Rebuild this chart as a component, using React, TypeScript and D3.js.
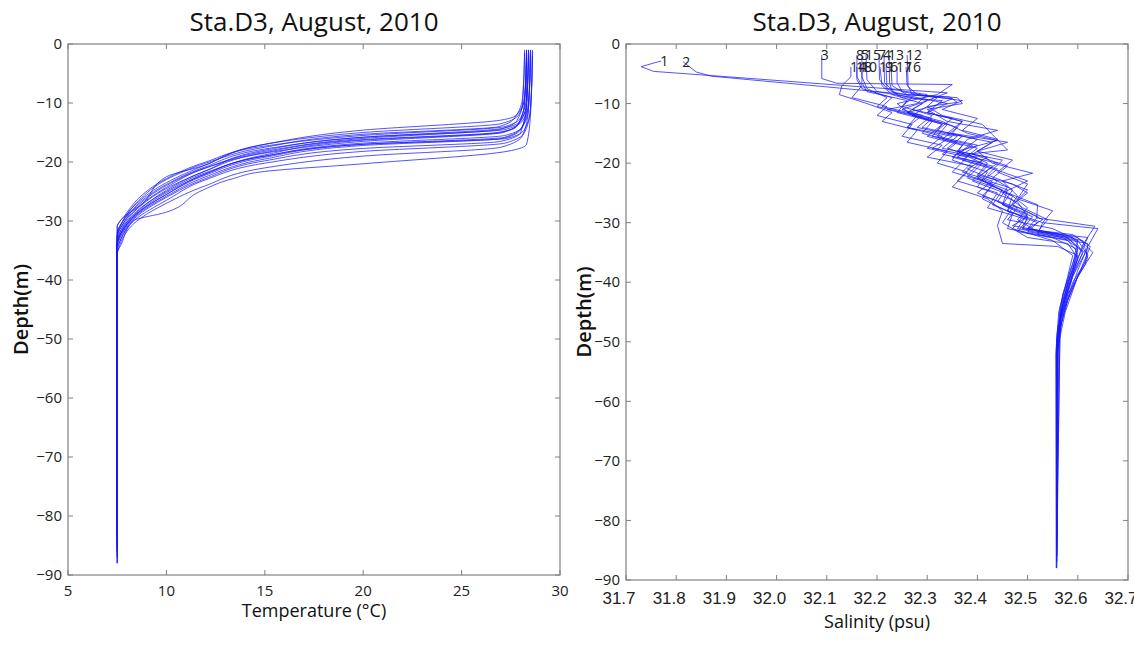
import React from "react";
import * as d3 from "d3";

// temperature profiles, [temp (°C), depth (m)], one per station
const tempProfiles: number[][][] = [
  [[28.3,1],[28.2,9],[27.9,12],[27.0,13.5],[20,15],[15,17],[12,20.5],[10,23.5],[8.5,27],[7.7,30.5],[7.5,33],[7.5,84]],
  [[28.5,1.5],[28.4,10],[28.1,13],[27.2,14.5],[20,15.8],[15,18],[12,21.5],[10,24.5],[8.5,28],[7.7,31.5],[7.5,34],[7.5,86]],
  [[28.6,2],[28.5,11],[28.2,14.5],[27.3,16],[20,17],[15,19],[12,22],[10,25.5],[8.6,28.5],[7.7,32],[7.5,34],[7.5,82]],
  [[28.3,1],[28.2,10],[27.8,14],[26.8,15],[20,16.2],[15,18.4],[12,21],[10,24],[8.5,27.5],[7.8,30],[7.5,32],[7.5,88]],
  [[28.4,1.2],[28.3,10],[28.0,15],[27.0,16.5],[20,17.7],[15,19.8],[12,22.8],[10,26],[8.4,29.5],[7.7,33],[7.5,35],[7.5,85]],
  [[28.2,1],[28.1,9],[27.7,12.5],[26.9,14],[20,15.3],[15,17.5],[12,20.2],[10,23],[8.6,26.5],[7.8,30],[7.5,32.5],[7.5,80]],
  [[28.5,1],[28.4,11],[28.1,15.5],[27.0,17.5],[20,19],[15,21],[12,24],[10,27],[8.5,30],[7.7,33.5],[7.5,36],[7.5,87]],
  [[28.3,1.5],[28.3,10],[27.9,13.5],[27.1,15],[20,16.5],[15,18.5],[12,21.5],[10,24.8],[8.5,28.5],[7.7,31.5],[7.5,33.5],[7.5,83]],
  [[28.4,1],[28.3,9],[28.0,12.5],[27.2,14],[20,15.5],[15,17.3],[12,20],[10,22.8],[8.8,25.5],[7.9,29],[7.5,31],[7.5,86]],
  [[28.6,1],[28.5,12],[28.3,17],[27.3,18.2],[20,20.3],[15,21.6],[13.4,22.8],[11.7,25],[10,28.5],[8.3,30],[7.7,34],[7.5,35.5],[7.5,88]],
  [[28.2,1.5],[28.1,10],[27.8,13],[26.9,14.5],[20,16],[15,18.2],[12,21],[10,24.3],[8.5,27.8],[7.7,31],[7.5,33],[7.5,81]],
  [[28.4,2],[28.3,11],[28.0,14.5],[27.1,16],[20,17.2],[15,19.5],[12,22.5],[10,25.8],[8.5,29],[7.7,32.5],[7.5,34.5],[7.5,84]],
  [[28.3,1],[28.2,9],[27.8,12],[27.0,12.9],[20,14.6],[15,17],[11.7,20.8],[10,22.5],[8.8,27],[7.7,29.8],[7.5,31],[7.5,87]],
  [[28.5,1],[28.4,10],[28.1,14],[27.2,15.5],[20,16.8],[15,19],[12,21.8],[10,25],[8.5,28.3],[7.7,32],[7.5,34],[7.5,85]],
  [[28.3,1.3],[28.2,10],[27.9,13.5],[27.0,15],[20,16.3],[15,18.8],[12,22],[10,25.2],[8.5,28.7],[7.7,32],[7.5,33.5],[7.5,82]],
  [[28.6,1.2],[28.5,11],[28.2,15],[27.2,16.8],[20,18.2],[15,20.2],[12,23],[10,26.5],[8.4,29.8],[7.7,33],[7.5,35],[7.5,86]],
  [[28.4,1],[28.3,10],[28.0,13],[27.1,14.3],[20,15.8],[15,17.8],[12,20.8],[10,23.8],[8.6,27],[7.8,30.5],[7.5,32.5],[7.5,83]],
  [[28.5,1.5],[28.4,11],[28.1,14],[27.2,15.8],[20,17],[15,19.2],[12,22.2],[10,25.5],[8.5,28.8],[7.7,32.3],[7.5,34.2],[7.5,88]],
];

// salinity profiles, [salinity (psu), depth (m)], station i+1
const salProfiles: number[][][] = [
  [[31.77,2.85],[31.73,3.8],[31.755,4.6],[31.95,5.8],[32.17,7.2],[32.34,8.2],[32.3,9.5],[32.25,11],[32.31,12.5],[32.29,14],[32.37,15.5],[32.34,17.5],[32.41,19.5],[32.38,22],[32.46,24.5],[32.45,27],[32.5,29],[32.49,31],[32.58,32.5],[32.61,35],[32.59,39],[32.57,45],[32.56,52],[32.558,84]],
  [[31.814,3.0],[31.84,4.7],[31.87,5.4],[32.1,7.2],[32.35,9.2],[32.31,10.5],[32.26,11.5],[32.33,13],[32.38,15],[32.44,16.2],[32.36,18],[32.42,20.5],[32.39,23],[32.47,25.5],[32.46,28],[32.52,30],[32.5,31.5],[32.6,33],[32.62,35.5],[32.6,39],[32.575,44],[32.56,50],[32.558,86]],
  [[32.09,1.85],[32.09,5.8],[32.12,6.6],[32.35,6.8],[32.32,8.5],[32.24,10],[32.27,12],[32.33,13.5],[32.3,15.5],[32.37,17],[32.35,19.5],[32.42,21.5],[32.4,24],[32.48,26.5],[32.5,29],[32.47,30.5],[32.57,32],[32.6,34],[32.59,38],[32.57,43],[32.56,49],[32.558,82]],
  [[32.214,1.85],[32.215,6.5],[32.24,8.5],[32.3,9.5],[32.27,11],[32.35,12.5],[32.32,14.5],[32.4,16],[32.36,18.5],[32.44,20],[32.4,22.5],[32.46,25],[32.52,27],[32.518,29.2],[32.634,30.6],[32.61,33.7],[32.6,36],[32.585,40],[32.565,46],[32.558,53],[32.558,88]],
  [[32.17,1.85],[32.17,5.5],[32.18,7.5],[32.22,9],[32.2,10.5],[32.28,12],[32.26,14],[32.33,15.5],[32.3,17.5],[32.38,19],[32.35,21.5],[32.43,23.5],[32.41,26],[32.47,28.5],[32.46,31],[32.55,32.5],[32.6,34.5],[32.585,38],[32.565,44],[32.558,51],[32.558,85]],
  [[32.228,3.85],[32.23,7],[32.26,8.5],[32.36,9],[32.37,10],[32.3,11],[32.34,13],[32.44,14.5],[32.38,16],[32.36,18],[32.45,19.5],[32.42,22],[32.5,24.5],[32.47,27],[32.53,29.5],[32.5,31],[32.6,32.5],[32.63,35],[32.6,39],[32.575,45],[32.56,51],[32.558,80]],
  [[32.204,1.85],[32.205,6],[32.22,7.5],[32.3,8.5],[32.28,10],[32.22,11],[32.3,12.5],[32.36,14],[32.33,16],[32.4,17.5],[32.37,19.5],[32.45,21.5],[32.5,23],[32.45,25],[32.49,27.5],[32.54,29.5],[32.52,31.5],[32.61,33],[32.62,36],[32.59,40],[32.567,46],[32.558,53],[32.558,87]],
  [[32.16,1.85],[32.16,5.5],[32.17,7],[32.15,9],[32.22,10.5],[32.2,12],[32.27,13.5],[32.25,15.5],[32.33,17],[32.3,19],[32.39,20.5],[32.36,23],[32.44,25],[32.42,27.5],[32.5,29.5],[32.48,31.5],[32.58,33],[32.6,35],[32.58,40],[32.565,46],[32.558,83]],
  [[32.218,3.85],[32.22,7.5],[32.25,9],[32.33,9.5],[32.3,11.5],[32.37,13],[32.35,15],[32.46,16.5],[32.4,18],[32.43,20],[32.51,21.7],[32.45,23],[32.48,25.5],[32.46,28],[32.53,30],[32.52,32],[32.62,33.5],[32.615,37],[32.58,42],[32.56,48],[32.558,86]],
  [[32.17,3.85],[32.17,6.5],[32.18,8],[32.26,9.5],[32.24,11.5],[32.31,13],[32.29,15],[32.36,16.5],[32.33,18.5],[32.41,20],[32.38,22.5],[32.45,24.5],[32.43,27],[32.49,29],[32.47,31],[32.55,33],[32.59,35.5],[32.58,39],[32.562,45],[32.556,52],[32.557,88]],
  [[32.206,3.85],[32.21,7],[32.23,8.5],[32.29,10],[32.26,11.5],[32.33,13.5],[32.31,15.5],[32.39,17],[32.35,19],[32.44,21],[32.41,23],[32.47,25.5],[32.5,27.5],[32.48,29.5],[32.52,31.5],[32.62,32.5],[32.6,36],[32.58,41],[32.563,47],[32.558,81]],
  [[32.26,1.85],[32.262,7],[32.27,8.5],[32.345,8.9],[32.36,9.8],[32.3,10.5],[32.33,12],[32.41,13.5],[32.46,17.8],[32.38,18.5],[32.42,20],[32.4,22],[32.47,23.5],[32.5,25],[32.47,27],[32.52,29],[32.5,31],[32.59,32.5],[32.61,35],[32.59,38.5],[32.57,44],[32.558,50],[32.558,84]],
  [[32.224,1.85],[32.225,6.5],[32.23,8],[32.28,9],[32.34,10],[32.3,11.5],[32.37,13],[32.34,15],[32.43,16.5],[32.39,18.5],[32.46,20.5],[32.43,22.5],[32.47,24.5],[32.45,27],[32.51,29],[32.49,31],[32.59,32],[32.625,34],[32.605,38],[32.58,43],[32.56,49],[32.558,87]],
  [[32.148,3.85],[32.148,5.5],[32.13,7],[32.125,8.5],[32.18,10],[32.23,11.5],[32.21,13],[32.28,14.5],[32.26,16.5],[32.34,18],[32.32,20],[32.38,21.5],[32.35,24],[32.42,26],[32.45,28],[32.44,30.5],[32.45,33.5],[32.56,34],[32.6,35.5],[32.585,39],[32.566,45],[32.558,52],[32.558,85]],
  [[32.178,1.85],[32.18,6],[32.2,8],[32.27,9],[32.25,10.5],[32.31,12],[32.28,14],[32.36,15.5],[32.33,17.5],[32.42,19],[32.38,21],[32.44,23],[32.41,25.5],[32.48,27.5],[32.46,29.5],[32.55,31],[32.6,33],[32.59,37],[32.57,42],[32.558,49],[32.558,82]],
  [[32.258,3.85],[32.26,7],[32.28,8.5],[32.37,9.5],[32.33,11],[32.4,12.5],[32.37,14.5],[32.44,16],[32.4,18],[32.47,19.5],[32.44,21.5],[32.5,23.5],[32.48,26],[32.55,28],[32.53,30],[32.64,31],[32.62,34],[32.6,38],[32.58,43],[32.56,49],[32.558,86]],
  [[32.24,3.85],[32.24,6.5],[32.25,8],[32.32,9],[32.3,10.5],[32.27,12],[32.34,13.5],[32.32,15.5],[32.4,17],[32.36,19],[32.43,20.5],[32.4,22.5],[32.46,24],[32.44,26.5],[32.5,28.5],[32.48,31],[32.57,32.5],[32.615,35],[32.59,39],[32.57,44],[32.558,50],[32.558,83]],
  [[32.16,3.85],[32.16,6],[32.17,7.5],[32.23,9],[32.21,10.5],[32.29,12],[32.26,14],[32.35,15.5],[32.31,17.5],[32.4,19],[32.37,21.5],[32.43,23],[32.4,25],[32.47,27.5],[32.45,30],[32.5,32.5],[32.58,33.5],[32.6,36],[32.58,40],[32.565,45],[32.558,88]],
];
const stationLabels = salProfiles.map((_, i) => String(i + 1));

const tempTicks = [5, 10, 15, 20, 25, 30];
const salTicks = [31.7, 31.8, 31.9, 32.0, 32.1, 32.2, 32.3, 32.4, 32.5, 32.6, 32.7];
const depthTicks = [0, -10, -20, -30, -40, -50, -60, -70, -80, -90];
const title = "Sta.D3, August, 2010";

const W = 1134, H = 646;
const LINE = "#1a1aff";
const FRAME = "#808080";
const FONT = "'Open Sans', 'Noto Sans', sans-serif";

function Panel({ x, y, xTicks, xFmt, profiles, xLabel, xLabelY, tickFont, tickY, tickShift, yLabelX, curve, labels }: any) {
  const [x0, x1] = x.range();
  const [y1, y0] = y.range();
  const line = d3.line<number[]>().x(d => x(d[0])).y(d => y(-d[1])).curve(curve);
  const tl = 5;
  return (
    <g>
      <rect x={x0} y={y0} width={x1 - x0} height={y1 - y0} fill="none" stroke={FRAME} strokeWidth={1.2} />
      {xTicks.map((t: number) => (
        <g key={"x" + t}>
          <line x1={x(t)} x2={x(t)} y1={y1} y2={y1 - tl} stroke={FRAME} />
          <line x1={x(t)} x2={x(t)} y1={y0} y2={y0 + tl} stroke={FRAME} />
          <text x={x(t) + tickShift} y={tickY} textAnchor="middle" fontSize={tickFont.size} fontFamily={tickFont.family} fill="#222">{xFmt(t)}</text>
        </g>
      ))}
      {depthTicks.map(t => (
        <g key={"y" + t}>
          <line x1={x0} x2={x0 + tl} y1={y(t)} y2={y(t)} stroke={FRAME} />
          <line x1={x1} x2={x1 - tl} y1={y(t)} y2={y(t)} stroke={FRAME} />
          <text x={x0 - 6} y={y(t)} dy="0.35em" textAnchor="end" fontSize={15} fontFamily={FONT} fill="#222">{d3.format("d")(t)}</text>
        </g>
      ))}
      <g fill="none" stroke={LINE} strokeWidth={1} strokeOpacity={0.75}>
        {profiles.map((p: number[][], i: number) => <path key={i} d={line(p) as string} />)}
      </g>
      {labels && profiles.map((p: number[][], i: number) => (
        <text key={"l" + i} x={x(p[0][0]) - 1} y={y(-p[0][1])} dy="0.35em" fontSize={14} fontFamily={FONT} fill="#222">{labels[i]}</text>
      ))}
      <text x={(x0 + x1) / 2} y={31} textAnchor="middle" fontSize={26} fontFamily={FONT} fill="#111">{title}</text>
      <text x={(x0 + x1) / 2} y={xLabelY} textAnchor="middle" fontSize={18} fontFamily={FONT} fill="#111">{xLabel}</text>
      <text transform={`translate(${yLabelX},${(y0 + y1) / 2}) rotate(-90)`} textAnchor="middle" fontSize={20} fontWeight={600} fontFamily={FONT} fill="#111">Depth(m)</text>
    </g>
  );
}

export default function App() {
  const xT = d3.scaleLinear().domain([5, 30]).range([68, 560]);
  const yT = d3.scaleLinear().domain([-90, 0]).range([575, 44]);
  const xS = d3.scaleLinear().domain([31.7, 32.7]).range([626, 1128]);
  const yS = d3.scaleLinear().domain([-90, 0]).range([580, 44]);
  return (
    <svg width={W} height={H} style={{ position: "absolute", left: 0, top: 0, background: "#fff" }}>
      <Panel x={xT} y={yT} xTicks={tempTicks} xFmt={d3.format("d")} profiles={tempProfiles}
        xLabel="Temperature (°C)" xLabelY={617} tickY={596} tickShift={0} tickFont={{ size: 15, family: FONT }}
        yLabelX={28} curve={d3.curveMonotoneY} />
      <Panel x={xS} y={yS} xTicks={salTicks} xFmt={d3.format(".1f")} profiles={salProfiles}
        xLabel="Salinity (psu)" xLabelY={628} tickY={604} tickShift={-7} tickFont={{ size: 17, family: "'Liberation Sans', Arial, sans-serif" }}
        yLabelX={591} curve={d3.curveLinear} labels={stationLabels} />
    </svg>
  );
}
